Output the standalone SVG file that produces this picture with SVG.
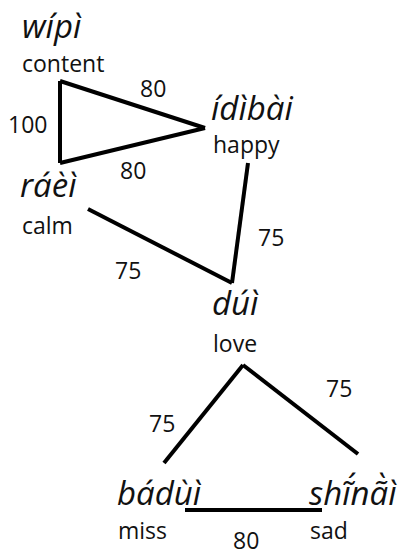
<svg xmlns="http://www.w3.org/2000/svg" width="399" height="556" viewBox="0 0 399 556">
<style>
.w{font-family:"Open Sans","Liberation Sans",sans-serif;font-style:italic;font-size:33px;fill:#111}
.g{font-family:"Open Sans","Liberation Sans",sans-serif;font-size:23px;fill:#111}
.n{font-family:"Open Sans","Liberation Sans",sans-serif;font-size:23px;fill:#111}
.c line{stroke:#000;stroke-width:4;stroke-linecap:butt}
</style>
<rect width="399" height="556" fill="#fff"/>
<g class="c" id="connectors">
<line x1="60" y1="81" x2="60" y2="163"/>
<line x1="60" y1="81" x2="205" y2="128"/>
<line x1="60" y1="163" x2="205" y2="128"/>
<line x1="248" y1="163" x2="232" y2="283"/>
<line x1="88" y1="209" x2="232" y2="283"/>
<line x1="243" y1="365" x2="164" y2="463"/>
<line x1="243" y1="365" x2="358" y2="454"/>
<line x1="185" y1="510" x2="322" y2="510"/>
<text class="n" x="140" y="97">80</text>
<text class="n" x="8" y="133">100</text>
<text class="n" x="120" y="179">80</text>
<text class="n" x="258" y="246">75</text>
<text class="n" x="115" y="279">75</text>
<text class="n" x="326" y="397">75</text>
<text class="n" x="149" y="432">75</text>
<text class="n" x="233" y="549">80</text>
</g>
<g id="wipi"><text class="w" x="22" y="38">wípì</text><text class="g" x="22" y="72">content</text></g>
<g id="idibai"><text class="w" x="211" y="120">ídìbài</text><text class="g" x="213" y="153">happy</text></g>
<g id="raei"><text class="w" x="20" y="197">ráèì</text><text class="g" x="22" y="234">calm</text></g>
<g id="dui"><text class="w" x="212" y="315">dúì</text><text class="g" x="213" y="352">love</text></g>
<g id="badui"><text class="w" x="117" y="505">bádùì</text><text class="g" x="118" y="539">miss</text></g>
<g id="shinai"><text class="w" x="309" y="505">shĩ́nã̀ì</text><text class="g" x="310" y="539">sad</text></g>
</svg>
